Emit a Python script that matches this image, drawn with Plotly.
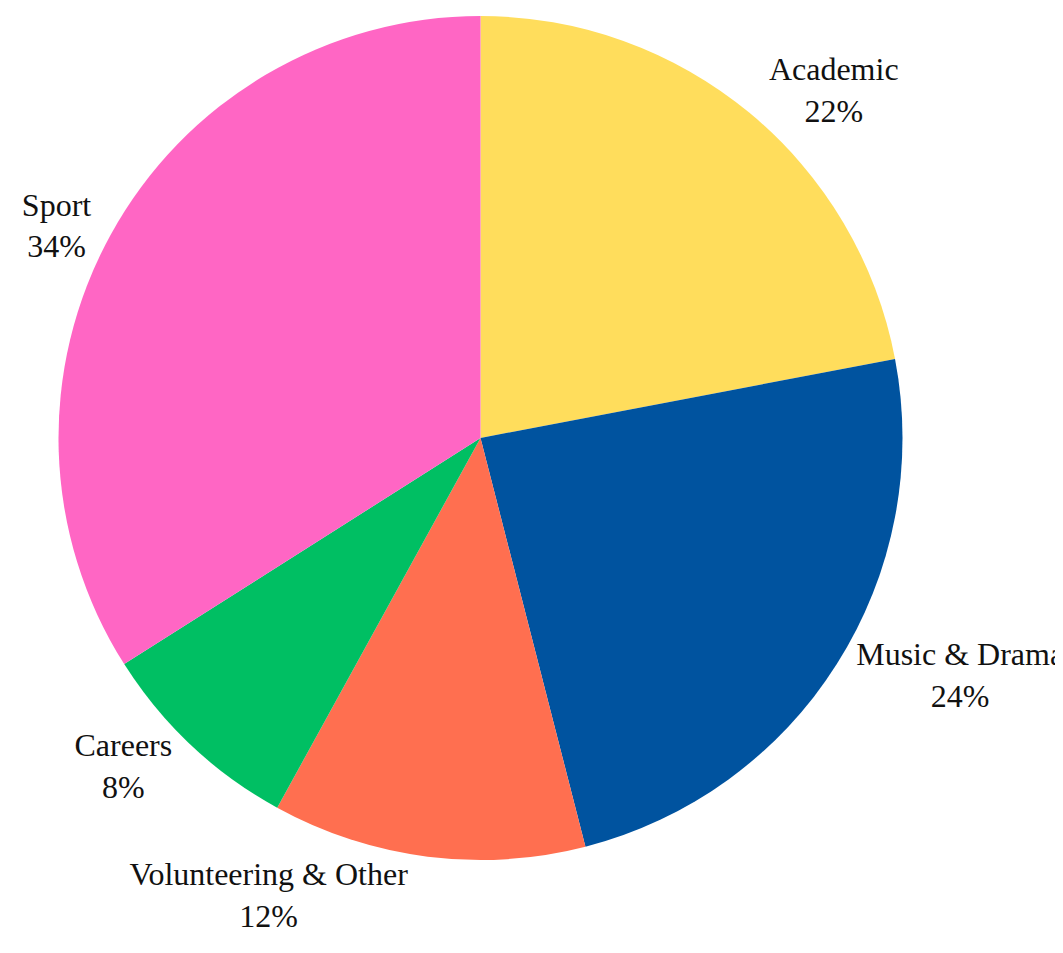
import plotly.graph_objects as go

categories = ["Academic", "Music & Drama", "Volunteering & Other", "Careers", "Sport"]
values = [22, 24, 12, 8, 34]
colors = ["#FFDD5C", "#00539F", "#FF6F50", "#00BF63", "#FF66C4"]

fig = go.Figure(go.Pie(
    labels=categories,
    values=values,
    sort=False,
    direction="clockwise",
    rotation=0,
    marker=dict(colors=colors, line=dict(width=0)),
    textinfo="label+percent",
    textposition="outside",
    texttemplate="%{label}<br>%{percent:.0%}",
    outsidetextfont=dict(family="Liberation Serif, DejaVu Serif, serif", size=32, color="#111111"),
    showlegend=False,
    automargin=False,
    hoverinfo="skip",
))

fig.update_layout(
    width=1055, height=945,
    margin=dict(l=50, r=160, t=8, b=93),
    paper_bgcolor="white",
    plot_bgcolor="white",
)

fig.write_html("out.html")
